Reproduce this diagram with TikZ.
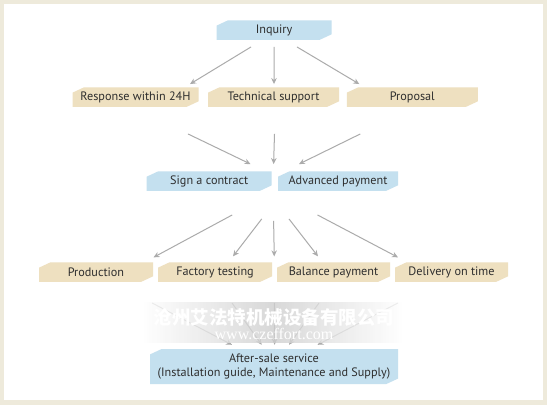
\documentclass[tikz,border=0pt]{standalone}
\usepackage{fontspec}
\setmainfont{PT Sans}
\newfontfamily\cjkfont{Noto Sans CJK SC}
\newfontfamily\urlfont{Liberation Serif}
\usetikzlibrary{shapes.misc,arrows.meta,calc}
\definecolor{framebeige}{HTML}{EEEADB}
\definecolor{stepblue}{HTML}{C4E0EF}
\definecolor{steptan}{HTML}{EEE0C0}
\definecolor{arrowgray}{HTML}{ABABAB}
\definecolor{textgray}{HTML}{2E2E2E}
\begin{document}
\begin{tikzpicture}[x=1bp,y=-1bp,
    stepbox/.style={chamfered rectangle,
        chamfered rectangle corners={north west,south east},
        chamfered rectangle angle=65,
        chamfered rectangle xsep=4.5bp, inner sep=0pt,
        minimum height=19.5bp, text=textgray,
        font=\fontsize{12.2bp}{14bp}\selectfont},
    bluestep/.style={stepbox, fill=stepblue},
    tanstep/.style={stepbox, fill=steptan},
    flow/.style={draw=arrowgray, line width=1bp,
        -{Stealth[length=6bp,width=5.5bp]}}]
    % Frame and panel
    \useasboundingbox (0,0) rectangle (547,405);
    \fill[framebeige] (0,0) rectangle (547,405);
    \fill[white] (4,4) rectangle (543,400);

    % Steps
    \node[bluestep, minimum width=115bp] (inquiry) at (274,30) {Inquiry};
    \node[tanstep, minimum width=126bp] (resp) at (135.5,97) {Response within 24H};
    \node[tanstep, minimum width=131bp] (tech) at (273.5,97) {Technical support};
    \node[tanstep, minimum width=131bp] (prop) at (412.3,97) {Proposal};
    \node[bluestep, minimum width=125bp] (sign) at (209.2,181) {Sign a contract};
    \node[bluestep, minimum width=120bp] (adv) at (338,181) {Advanced payment};
    \node[tanstep, minimum width=114bp] (prod) at (96,272) {Production};
    \node[tanstep, minimum width=114bp] (fact) at (215,272) {Factory testing};
    \node[tanstep, minimum width=113bp] (bal) at (333.5,272) {Balance payment};
    \node[tanstep, minimum width=113bp] (deliv) at (451.5,272) {Delivery on time};
    \node[bluestep, minimum width=248bp, minimum height=35bp, align=center]
        (after) at (274,366.5) {After-sale service\\(Installation guide, Maintenance and Supply)};

    % Gaps between neighbouring steps
    \coordinate (gapA) at ($(sign.north)!.5!(adv.north)$);
    \coordinate (gapB) at ($(sign.south)!.5!(adv.south)$);
    \coordinate (gapC) at ($(fact.north)!.5!(bal.north)$);
    \coordinate (gapD) at ($(fact.south)!.5!(bal.south)$);

    % Inquiry to first row
    \draw[flow] ([xshift=-23bp,yshift=-7bp]inquiry.south) -- ([xshift=54.5bp,yshift=3bp]resp.north);
    \draw[flow] ([yshift=-7bp]inquiry.south) -- ([xshift=.5bp,yshift=3bp]tech.north);
    \draw[flow] ([xshift=23bp,yshift=-7bp]inquiry.south) -- ([xshift=-53bp,yshift=3bp]prop.north);

    % First row to contract
    \draw[flow] ([xshift=52.5bp,yshift=-27bp]resp.south) -- ([xshift=41.3bp,yshift=7bp]sign.north);
    \draw[flow] ([xshift=1bp,yshift=-27bp]tech.south) -- ([yshift=7bp]gapA);
    \draw[flow] ([xshift=-52bp,yshift=-27bp]prop.south) -- ([xshift=-39bp,yshift=7bp]adv.north);

    % Contract to production row
    \draw[flow] ([xshift=23bp,yshift=-24bp]sign.south) -- ([xshift=57.5bp,yshift=4.7bp]prod.north);
    \draw[flow] ([xshift=52.5bp,yshift=-28bp]sign.south) -- ([xshift=18bp,yshift=5.7bp]fact.north);
    \draw[flow] ([yshift=-30bp]gapB) -- ([yshift=5.7bp]gapC);
    \draw[flow] ([xshift=-49bp,yshift=-28bp]adv.south) -- ([xshift=-15.5bp,yshift=5.7bp]bal.north);
    \draw[flow] ([xshift=-20.5bp,yshift=-24bp]adv.south) -- ([xshift=-53.5bp,yshift=4.7bp]deliv.north);

    % Production row to after-sale service
    \draw[flow] ([xshift=56bp,yshift=-21bp]prod.south) -- ([xshift=-42bp,yshift=4bp]after.north);
    \draw[flow] ([xshift=17bp,yshift=-21bp]fact.south) -- ([xshift=-12.3bp,yshift=4bp]after.north);
    \draw[flow] ([yshift=-21bp]gapD) -- ([xshift=.6bp,yshift=4bp]after.north);
    \draw[flow] ([xshift=-14.5bp,yshift=-21bp]bal.south) -- ([xshift=15bp,yshift=4bp]after.north);
    \draw[flow] ([xshift=-53.5bp,yshift=-21bp]deliv.south) -- ([xshift=43.5bp,yshift=4bp]after.north);

    % Watermark band
    \shade[left color=white, right color=white, middle color=gray!38, opacity=.8]
        (142,302) rectangle (403,342);
    \node[text=white, font=\fontsize{18.5bp}{20bp}\selectfont\cjkfont\bfseries]
        (markcn) at (274,317) {沧州艾法特机械设备有限公司};
    \node[text=white, font=\fontsize{16bp}{18bp}\selectfont\urlfont]
        (markurl) at (274,334) {www.czeffort.com};
\end{tikzpicture}
\end{document}
